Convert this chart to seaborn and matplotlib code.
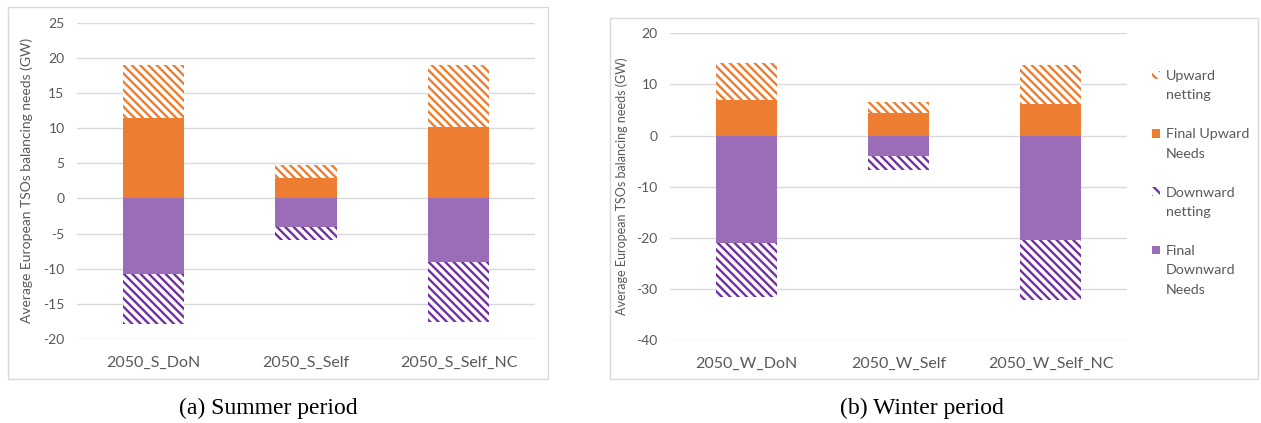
import matplotlib
matplotlib.use("Agg")
import matplotlib.pyplot as plt
from matplotlib.patches import Patch, Rectangle
import seaborn as sns

# ---------------- data ----------------
summer_categories = ["2050_S_DoN", "2050_S_Self", "2050_S_Self_NC"]
summer_final_up = [11.4, 2.9, 10.2]
summer_up_netting = [7.6, 1.9, 8.8]
summer_final_down = [-10.7, -4.0, -9.0]
summer_down_netting = [-7.1, -1.9, -8.6]

winter_categories = ["2050_W_DoN", "2050_W_Self", "2050_W_Self_NC"]
winter_final_up = [7.0, 4.4, 6.1]
winter_up_netting = [7.1, 2.1, 7.7]
winter_final_down = [-21.1, -4.0, -20.4]
winter_down_netting = [-10.5, -2.8, -11.8]

summer_yticks = [25, 20, 15, 10, 5, 0, -5, -10, -15, -20]
winter_yticks = [20, 10, 0, -10, -20, -30, -40]

legend_labels = ["Upward\nnetting", "Final Upward\nNeeds", "Downward\nnetting", "Final\nDownward\nNeeds"]
captions = ["(a) Summer period", "(b) Winter period"]
ylabel = "Average European TSOs balancing needs (GW)"

# ---------------- style ----------------
ORANGE = "#ED7D31"
PURPLE = "#9B6CB8"
PURPLE_H = "#7030A0"
GRID = "#D9D9D9"
TXT = "#595959"

sns.set_theme(style="white")
plt.rcParams["font.family"] = ["Lato", "DejaVu Sans"]
plt.rcParams["hatch.linewidth"] = 1.7
HATCH = "\\\\\\\\"

fig = plt.figure(figsize=(12.61, 4.23), dpi=100)
W, H = 1261.0, 423.0


def fx(px):
    return px / W


def fy(py):
    return 1 - py / H


# panel frames
fig.patches.append(Rectangle((fx(8), fy(379)), (548 - 8) / W, (379 - 7) / H,
                             transform=fig.transFigure, fill=False,
                             edgecolor=GRID, linewidth=1.0, zorder=0))
fig.patches.append(Rectangle((fx(610), fy(379)), (1258 - 610) / W, (379 - 18) / H,
                             transform=fig.transFigure, fill=False,
                             edgecolor=GRID, linewidth=1.0, zorder=0))

ax1 = fig.add_axes([fx(77), fy(339), (535 - 77) / W, (339 - 22.7) / H])
ax2 = fig.add_axes([fx(670), fy(340), (1127 - 670) / W, (340 - 33.3) / H])


def hatched(ax, cats, vals, color):
    n0 = len(ax.patches)
    sns.barplot(x=cats, y=vals, ax=ax, width=0.4, color=color, zorder=2)
    for p in ax.patches[n0:]:
        p.set_facecolor("white")
        p.set_edgecolor(color)
        p.set_hatch(HATCH)
        p.set_linewidth(0)


def solid(ax, cats, vals, color):
    n0 = len(ax.patches)
    sns.barplot(x=cats, y=vals, ax=ax, width=0.4, color=color, zorder=3)
    for p in ax.patches[n0:]:
        p.set_facecolor(color)
        p.set_edgecolor("none")
        p.set_linewidth(0)


def panel(ax, cats, fu, un, fd, dn, yticks, ylab_x, ylab_size):
    up_total = [a + b for a, b in zip(fu, un)]
    down_total = [a + b for a, b in zip(fd, dn)]
    hatched(ax, cats, up_total, ORANGE)
    hatched(ax, cats, down_total, PURPLE_H)
    solid(ax, cats, fu, ORANGE)
    solid(ax, cats, fd, PURPLE)
    ax.set_ylim(min(yticks), max(yticks))
    ax.set_xlim(-0.5, 2.5)
    ax.set_yticks(yticks)
    ax.set_yticklabels([str(t) for t in yticks])
    ax.yaxis.grid(True, color=GRID, linewidth=1.0, zorder=0)
    ax.xaxis.grid(False)
    ax.set_axisbelow(True)
    for s in ax.spines.values():
        s.set_visible(False)
    ax.tick_params(axis="y", length=0, pad=9, labelsize=10, labelcolor=TXT)
    ax.tick_params(axis="x", length=0, pad=12, labelsize=11.5, labelcolor=TXT)
    ax.set_xlabel("")
    ax.set_ylabel(ylabel, fontsize=ylab_size, color=TXT)
    ax.yaxis.set_label_coords(ylab_x, 0.5)
    ax.set_facecolor("none")


panel(ax1, summer_categories, summer_final_up, summer_up_netting,
      summer_final_down, summer_down_netting, summer_yticks, -0.096, 10)
panel(ax2, winter_categories, winter_final_up, winter_up_netting,
      winter_final_down, winter_down_netting, winter_yticks, -0.092, 9)

# legend: one line per row, marker on the first line of each entry
none = Patch(facecolor="none", edgecolor="none")
up_h = Patch(facecolor="white", edgecolor=ORANGE, hatch="\\\\\\", linewidth=0)
up_s = Patch(facecolor=ORANGE, edgecolor="none")
dn_h = Patch(facecolor="white", edgecolor=PURPLE_H, hatch="\\\\\\", linewidth=0)
dn_s = Patch(facecolor=PURPLE, edgecolor="none")
handles, labels = [], []
for i, (lab, h) in enumerate(zip(legend_labels, [up_h, up_s, dn_h, dn_s])):
    lines = lab.split("\n")
    for j, ln in enumerate(lines):
        handles.append(h if j == 0 else none)
        labels.append(ln)
    if i < len(legend_labels) - 1:
        handles.append(none)
        labels.append("")

leg = fig.legend(handles, labels, loc="upper left",
                 bbox_to_anchor=(fx(1152), fy(70)), bbox_transform=fig.transFigure,
                 frameon=False, fontsize=10.3, labelcolor=TXT,
                 handlelength=0.55, handleheight=0.55, handletextpad=0.4,
                 labelspacing=0.52, borderpad=0, borderaxespad=0)

# captions
fig.text(fx(268), fy(408), captions[0], ha="center", va="center",
         fontsize=17, family=["Liberation Serif", "DejaVu Serif"], color="black")
fig.text(fx(922), fy(408), captions[1], ha="center", va="center",
         fontsize=17, family=["Liberation Serif", "DejaVu Serif"], color="black")

fig.savefig("out.png", dpi=100, facecolor="white")
